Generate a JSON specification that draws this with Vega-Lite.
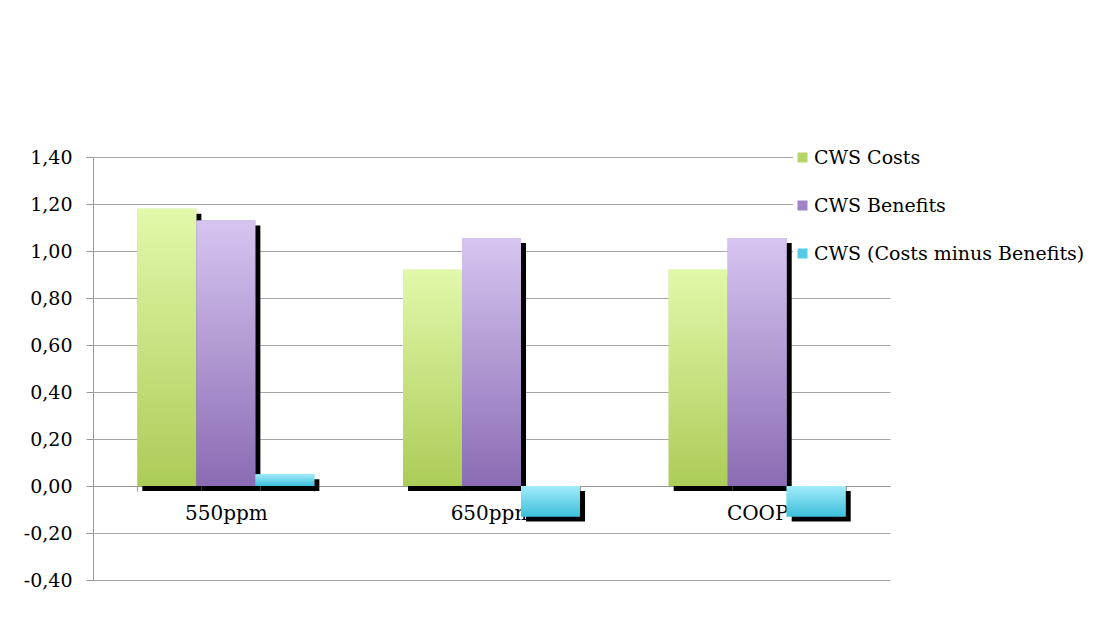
{
  "$schema": "https://vega.github.io/schema/vega-lite/v6.json",
  "autosize": "none",
  "width": 797,
  "height": 423,
  "padding": {"left": 93, "top": 157, "right": 208, "bottom": 41},
  "background": "white",
  "config": {
    "view": {"stroke": null},
    "font": "DejaVu Serif"
  },
  "data": {
    "values": [
      {"scenario": "550ppm", "series": "CWS Costs", "value": 1.18},
      {"scenario": "550ppm", "series": "CWS Benefits", "value": 1.13},
      {"scenario": "550ppm", "series": "CWS (Costs minus Benefits)", "value": 0.05},
      {"scenario": "650ppm", "series": "CWS Costs", "value": 0.92},
      {"scenario": "650ppm", "series": "CWS Benefits", "value": 1.055},
      {"scenario": "650ppm", "series": "CWS (Costs minus Benefits)", "value": -0.13},
      {"scenario": "COOP", "series": "CWS Costs", "value": 0.92},
      {"scenario": "COOP", "series": "CWS Benefits", "value": 1.055},
      {"scenario": "COOP", "series": "CWS (Costs minus Benefits)", "value": -0.13}
    ]
  },
  "encoding": {
    "x": {
      "field": "scenario", "type": "nominal", "sort": ["550ppm", "650ppm", "COOP"],
      "scale": {"paddingInner": 0.334, "paddingOuter": 0.167},
      "axis": {
        "title": null, "labelAngle": 0, "offset": -94, "domainColor": "#999999",
        "tickColor": "#999999", "tickSize": 5, "tickBand": "extent",
        "labelFont": "DejaVu Serif", "labelFontSize": 20, "labelColor": "#000000",
        "labelPadding": 12, "grid": false
      }
    },
    "y": {
      "field": "value", "type": "quantitative",
      "scale": {"domain": [-0.4, 1.4], "nice": false},
      "axis": {
        "title": null, "values": [-0.4, -0.2, 0, 0.2, 0.4, 0.6, 0.8, 1.0, 1.2, 1.4],
        "labelExpr": "replace(replace(format(datum.value, '.2f'), '.', ','), '\u2212', '-')",
        "gridColor": "#a6a6a6", "domainColor": "#999999", "tickColor": "#999999",
        "tickSize": 7, "labelFont": "DejaVu Serif", "labelFontSize": 19,
        "labelColor": "#000000", "labelPadding": 14
      }
    }
  },
  "layer": [
    {
      "mark": {"type": "bar", "color": "#000000", "yOffset": 5, "y2Offset": 5},
      "encoding": {
        "xOffset": {"field": "series", "type": "nominal", "sort": ["CWS Costs", "CWS Benefits", "CWS (Costs minus Benefits)"], "scale": {"range": [5, 182]}}
      }
    },
    {
      "layer": [
        {
          "mark": {"type": "bar"},
          "encoding": {
            "color": {
              "field": "series", "type": "nominal",
              "sort": ["CWS Costs", "CWS Benefits", "CWS (Costs minus Benefits)"],
              "scale": {"domain": ["CWS Costs", "CWS Benefits", "CWS (Costs minus Benefits)"], "range": ["#b5d56a", "#9f83c6", "#56cbe5"]},
              "legend": {
                "title": null, "orient": "none", "legendX": 700, "legendY": -9,
                "symbolType": "square", "symbolSize": 100, "symbolStrokeWidth": 0,
                "labelFont": "DejaVu Serif", "labelFontSize": 19, "labelColor": "#000000",
                "labelLimit": 400, "rowPadding": 28, "labelOffset": 2, "fillColor": "white", "padding": 0
              }
            }
          }
        },
        {
          "transform": [{"filter": "datum.series === 'CWS Costs'"}],
          "mark": {"type": "bar", "color": {"gradient": "linear", "x1": 0, "y1": 0, "x2": 0, "y2": 1, "stops": [{"offset": 0, "color": "#e2f8aa"}, {"offset": 1, "color": "#accc58"}]}}
        },
        {
          "transform": [{"filter": "datum.series === 'CWS Benefits'"}],
          "mark": {"type": "bar", "color": {"gradient": "linear", "x1": 0, "y1": 0, "x2": 0, "y2": 1, "stops": [{"offset": 0, "color": "#d6c5f0"}, {"offset": 1, "color": "#8b6cb4"}]}}
        },
        {
          "transform": [{"filter": "datum.series === 'CWS (Costs minus Benefits)'"}],
          "mark": {"type": "bar", "color": {"gradient": "linear", "x1": 0, "y1": 0, "x2": 0, "y2": 1, "stops": [{"offset": 0, "color": "#a2ecfa"}, {"offset": 1, "color": "#3dbfdb"}]}}
        }
      ],
      "encoding": {
        "xOffset": {"field": "series", "type": "nominal", "sort": ["CWS Costs", "CWS Benefits", "CWS (Costs minus Benefits)"], "scale": {"domain": ["CWS Costs", "CWS Benefits", "CWS (Costs minus Benefits)"]}}
      }
    }
  ],
  "resolve": {"scale": {"xOffset": "independent"}}
}
